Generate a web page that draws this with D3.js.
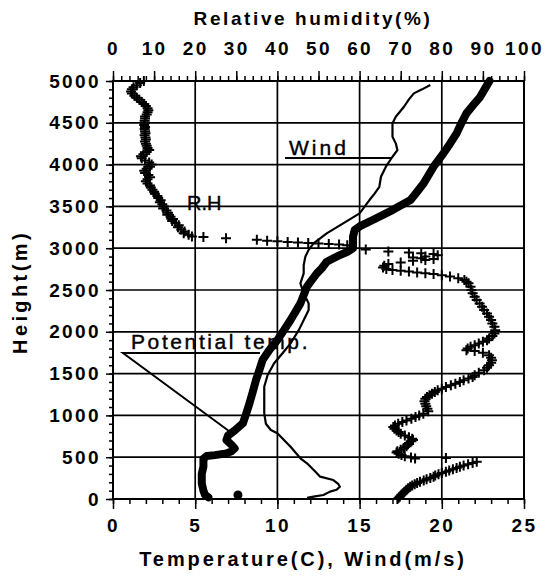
<!DOCTYPE html>
<html>
<head>
<meta charset="utf-8">
<script src="https://cdn.jsdelivr.net/npm/d3@7"></script>
<style>
  html, body { margin: 0; padding: 0; background: #fff; }
  svg text { font-family: "Liberation Sans", Arial, Helvetica, sans-serif; fill: #000; }
</style>
</head>
<body>
<div id="chart"></div>
<script>
// tick labels
const tempTicks = [0, 5, 10, 15, 20, 25]
const rhTicks = [0, 10, 20, 30, 40, 50, 60, 70, 80, 90, 100]
const heightTicks = [0, 500, 1000, 1500, 2000, 2500, 3000, 3500, 4000, 4500, 5000]

// potential temperature (C): [height m, value]
const potentialTemp = [
  [5000, 22.9], [4900, 22.6], [4800, 22.3], [4733, 22.0], [4613, 21.5], [4500, 21.2],
  [4374, 20.9], [4250, 20.5], [4135, 20.1], [3975, 19.5], [3876, 19.2], [3776, 18.9],
  [3676, 18.5], [3576, 18.1], [3456, 17.0], [3337, 15.8], [3260, 15.0], [3217, 14.7],
  [3137, 14.6], [3000, 14.6], [2960, 14.3], [2918, 13.8], [2838, 13.0], [2760, 12.7],
  [2699, 12.4], [2620, 12.1], [2540, 11.8], [2440, 11.6], [2340, 11.4], [2240, 11.1],
  [2141, 10.8], [2020, 10.4], [1902, 10.0], [1780, 9.5], [1663, 9.1], [1540, 8.9],
  [1423, 8.7], [1280, 8.5], [1145, 8.3], [1020, 8.1], [905, 7.9], [820, 7.4],
  [760, 7.0], [705, 6.9], [650, 7.2], [606, 7.4], [570, 7.2], [546, 6.9], [525, 6.2],
  [514, 5.7], [480, 5.5], [386, 5.5], [300, 5.4], [188, 5.4], [100, 5.5], [48, 5.6], [20, 5.8]
]
const surfaceTemp = [[48, 7.6]]

// wind speed (m/s): [height m, value]
const windSpeed = [
  [4951, 19.3], [4900, 18.8], [4852, 18.3], [4780, 18.0], [4692, 17.7], [4572, 17.2],
  [4493, 17.0], [4413, 17.0], [4333, 17.0], [4254, 17.2], [4174, 17.3], [4094, 17.0],
  [3975, 16.6], [3855, 16.3], [3735, 16.2], [3650, 15.9], [3576, 15.6], [3417, 15.0],
  [3297, 14.0], [3178, 13.0], [3058, 12.2], [2980, 11.9], [2898, 11.7], [2800, 11.6],
  [2699, 11.6], [2580, 11.4], [2460, 11.6], [2340, 11.9], [2260, 11.9], [2180, 11.7],
  [2020, 11.3], [1862, 10.8], [1740, 10.3], [1623, 9.8], [1480, 9.4], [1343, 9.2],
  [1180, 9.2], [1025, 9.2], [900, 9.3], [825, 9.6], [786, 10.0], [625, 10.8],
  [487, 11.4], [427, 11.8], [330, 12.3], [267, 12.6], [227, 13.4], [180, 13.7],
  [147, 13.8], [110, 13.6], [88, 13.2], [48, 12.8], [28, 12.2], [15, 11.8]
]

// relative humidity (%): [height m, value]
const relHumidity = [
  [5000, 7.5], [4975, 6.6], [4950, 5.8], [4925, 5.0], [4900, 4.6], [4875, 4.4], [4850, 4.6],
  [4825, 5.2], [4800, 5.8], [4775, 6.4], [4750, 7.0], [4725, 7.6], [4700, 8.0], [4675, 8.4],
  [4650, 8.6], [4625, 8.4], [4600, 8.2], [4575, 7.8], [4550, 7.8], [4525, 7.7], [4500, 7.8],
  [4475, 7.6], [4450, 7.8], [4425, 7.7], [4400, 7.8], [4375, 7.9], [4350, 7.7], [4325, 7.9],
  [4300, 8.0], [4275, 7.8], [4250, 8.0], [4225, 8.2], [4200, 8.4], [4175, 8.8], [4150, 8.2],
  [4125, 7.4], [4100, 6.8], [4075, 7.0], [4050, 7.8], [4025, 8.8], [4000, 9.4], [3975, 9.0],
  [3950, 8.2], [3925, 7.6], [3900, 7.8], [3875, 8.6], [3850, 9.0], [3825, 8.4], [3800, 8.0],
  [3775, 8.4], [3750, 9.0], [3725, 9.2], [3700, 9.6], [3675, 10.0], [3650, 10.2], [3625, 10.8],
  [3600, 11.0], [3575, 11.6], [3550, 11.4], [3525, 12.0], [3500, 12.4], [3475, 12.2],
  [3450, 13.0], [3425, 13.4], [3400, 13.2], [3375, 14.0], [3350, 14.6], [3325, 14.4],
  [3300, 15.2], [3275, 16.0], [3250, 15.8], [3225, 16.6], [3200, 17.4], [3180, 17.2],
  [3160, 18.4], [3140, 19.2], [3135, 22.0], [3120, 27.5], [3100, 35.0], [3090, 37.5],
  [3082, 40.0], [3075, 42.5], [3068, 45.0], [3062, 47.5], [3056, 50.0], [3050, 52.5],
  [3044, 55.0], [3035, 57.0], [2985, 61.5], [2960, 67.0], [2950, 72.0], [2940, 75.0],
  [2930, 78.0], [2915, 79.0], [2900, 76.0], [2890, 73.0], [2880, 75.0], [2870, 78.0],
  [2860, 76.0], [2850, 73.0], [2830, 70.0], [2810, 67.0], [2790, 66.0], [2770, 65.7],
  [2750, 66.5], [2740, 68.0], [2730, 70.0], [2720, 72.0], [2710, 74.0], [2700, 76.0],
  [2690, 78.0], [2675, 80.0], [2660, 82.0], [2640, 84.0], [2620, 85.5], [2600, 86.0],
  [2580, 86.5], [2540, 87.0], [2500, 87.2], [2460, 87.5], [2420, 88.0], [2380, 88.5],
  [2340, 89.2], [2300, 89.8], [2260, 90.3], [2220, 91.0], [2180, 91.5], [2140, 92.0],
  [2100, 92.3], [2060, 92.8], [2020, 93.0], [1980, 92.8], [1950, 92.3], [1920, 91.5],
  [1900, 91.0], [1880, 90.0], [1860, 89.0], [1840, 88.0], [1820, 87.0], [1800, 86.3],
  [1780, 86.0], [1770, 88.0], [1750, 90.0], [1720, 91.5], [1690, 92.0], [1660, 92.2],
  [1630, 92.0], [1600, 91.5], [1570, 91.0], [1540, 90.3], [1510, 89.0], [1480, 88.0],
  [1460, 87.5], [1440, 86.5], [1420, 85.3], [1400, 84.4], [1380, 83.3], [1360, 82.2],
  [1340, 81.0], [1320, 80.0], [1300, 79.0], [1280, 78.3], [1260, 77.6], [1240, 77.0],
  [1220, 76.4], [1200, 76.0], [1170, 75.8], [1140, 76.0], [1110, 76.2], [1080, 76.5],
  [1050, 76.7], [1020, 75.5], [1000, 74.5], [980, 73.6], [960, 72.6], [940, 71.4],
  [920, 70.4], [900, 69.4], [880, 68.6], [860, 68.2], [840, 68.5], [820, 69.0], [800, 69.5],
  [780, 70.0], [760, 71.0], [740, 72.0], [720, 72.8], [705, 73.0], [690, 72.6], [670, 72.0],
  [650, 71.6], [630, 71.4], [610, 70.8], [590, 70.0], [570, 69.2], [555, 69.0], [540, 69.5],
  [525, 70.2], [510, 71.0], [495, 72.5], [485, 73.5], [490, 81.0],
  [445, 88.5], [430, 87.5], [415, 86.4], [400, 85.3], [385, 84.4], [370, 83.6], [355, 82.7],
  [340, 81.8], [325, 81.0], [310, 80.0], [295, 79.2], [280, 78.4], [265, 78.0], [250, 77.2],
  [235, 76.3], [220, 75.6], [205, 74.7], [190, 74.0], [175, 73.4], [160, 72.8], [147, 72.3],
  [130, 71.8], [110, 71.4], [90, 71.0], [68, 70.6], [50, 70.2], [30, 69.8], [15, 69.5], [0, 69.2]
]

const W = 546, H = 579
const x = d3.scaleLinear().domain([0, 25]).range([113, 524])
const xRH = d3.scaleLinear().domain([0, 100]).range([113, 524])
const y = d3.scaleLinear().domain([0, 5000]).range([499, 81])

const svg = d3.select('#chart').append('svg')
  .attr('width', W)
  .attr('height', H)

const font = 'Liberation Sans, Arial, sans-serif'

// grid
svg.append('g')
  .selectAll('line')
  .data(tempTicks.slice(1, -1))
  .enter().append('line')
    .attr('x1', d => x(d)).attr('x2', d => x(d))
    .attr('y1', y(0)).attr('y2', y(5000))
    .attr('stroke', '#000').attr('stroke-width', 1.7)

svg.append('g')
  .selectAll('line')
  .data(heightTicks.slice(1, -1))
  .enter().append('line')
    .attr('x1', x(0)).attr('x2', x(25))
    .attr('y1', d => y(d)).attr('y2', d => y(d))
    .attr('stroke', '#000').attr('stroke-width', 1.7)

function styleAxis(g) {
  g.select('.domain').remove()
  g.selectAll('.tick line').attr('stroke', '#000').attr('stroke-width', 1.5)
  g.attr('font-family', font).attr('font-size', 19).attr('font-weight', 'bold')
  g.selectAll('text').attr('letter-spacing', 2.4).attr('fill', '#000')
}

const plain = d3.format('d')

// bottom axis
svg.append('g').attr('transform', `translate(0,${y(0)})`)
  .call(d3.axisBottom(x).tickValues(d3.range(0, 26)).tickSize(5).tickFormat(''))
  .call(styleAxis)
svg.append('g').attr('transform', `translate(0,${y(0)})`)
  .call(d3.axisBottom(x).tickValues(tempTicks).tickSize(10).tickPadding(10).tickFormat(plain))
  .call(styleAxis)

// top axis (RH)
svg.append('g').attr('transform', `translate(0,${y(5000)})`)
  .call(d3.axisTop(xRH).tickValues(d3.range(0, 101, 2)).tickSize(5).tickFormat(''))
  .call(styleAxis)
svg.append('g').attr('transform', `translate(0,${y(5000)})`)
  .call(d3.axisTop(xRH).tickValues(rhTicks).tickSize(10).tickPadding(16).tickFormat(plain))
  .call(styleAxis)

// left axis
svg.append('g').attr('transform', `translate(${x(0)},0)`)
  .call(d3.axisLeft(y).tickValues(d3.range(0, 5001, 100)).tickSize(4).tickFormat(''))
  .call(styleAxis)
svg.append('g').attr('transform', `translate(${x(0)},0)`)
  .call(d3.axisLeft(y).tickValues(heightTicks).tickSize(7).tickPadding(5).tickFormat(plain))
  .call(styleAxis)

// frame
svg.append('rect')
  .attr('x', x(0)).attr('y', y(5000))
  .attr('width', x(25) - x(0)).attr('height', y(0) - y(5000))
  .attr('fill', 'none').attr('stroke', '#000').attr('stroke-width', 2)

// axis titles
svg.append('text')
  .attr('x', 313).attr('y', 25)
  .attr('text-anchor', 'middle')
  .attr('font-size', 19).attr('font-weight', 'bold').attr('letter-spacing', 2.6)
  .text('Relative humidity(%)')

svg.append('text')
  .attr('x', 303).attr('y', 566)
  .attr('text-anchor', 'middle')
  .attr('font-size', 20).attr('font-weight', 'bold').attr('letter-spacing', 2.9)
  .text('Temperature(C), Wind(m/s)')

svg.append('text')
  .attr('transform', 'translate(27,292) rotate(-90)')
  .attr('text-anchor', 'middle')
  .attr('font-size', 20).attr('font-weight', 'bold').attr('letter-spacing', 3.4)
  .text('Height(m)')

// annotations
svg.append('text')
  .attr('x', 187).attr('y', 210)
  .attr('font-size', 20).attr('stroke', '#000').attr('stroke-width', 0.4)
  .text('R.H')

svg.append('text')
  .attr('x', 289).attr('y', 155)
  .attr('font-size', 21).attr('letter-spacing', 3)
  .attr('stroke', '#000').attr('stroke-width', 0.4)
  .text('Wind')
svg.append('line')
  .attr('x1', 285).attr('x2', 392).attr('y1', 158).attr('y2', 158)
  .attr('stroke', '#000').attr('stroke-width', 2)

svg.append('text')
  .attr('x', 131).attr('y', 349)
  .attr('font-size', 21).attr('letter-spacing', 2.6)
  .attr('stroke', '#000').attr('stroke-width', 0.4)
  .text('Potential temp.')
svg.append('polyline')
  .attr('points', '260,353 123,353 233,434')
  .attr('fill', 'none').attr('stroke', '#000').attr('stroke-width', 2)

// series
const line = d3.line()
  .x(d => x(d[1]))
  .y(d => y(d[0]))

svg.append('path')
  .datum(windSpeed)
  .attr('d', line)
  .attr('fill', 'none').attr('stroke', '#000').attr('stroke-width', 2.2)
  .attr('stroke-linejoin', 'round')

svg.append('path')
  .datum(potentialTemp)
  .attr('d', line)
  .attr('fill', 'none').attr('stroke', '#000').attr('stroke-width', 8)
  .attr('stroke-linejoin', 'round').attr('stroke-linecap', 'round')

svg.selectAll('.surf')
  .data(surfaceTemp)
  .enter().append('circle')
    .attr('cx', d => x(d[1])).attr('cy', d => y(d[0]))
    .attr('r', 4.5).attr('fill', '#000')

svg.append('g')
  .selectAll('path')
  .data(relHumidity)
  .enter().append('path')
    .attr('transform', d => `translate(${xRH(d[1])},${y(d[0])})`)
    .attr('d', 'M-5,0H5M0,-5V5')
    .attr('stroke', '#000').attr('stroke-width', 2)
</script>
</body>
</html>
